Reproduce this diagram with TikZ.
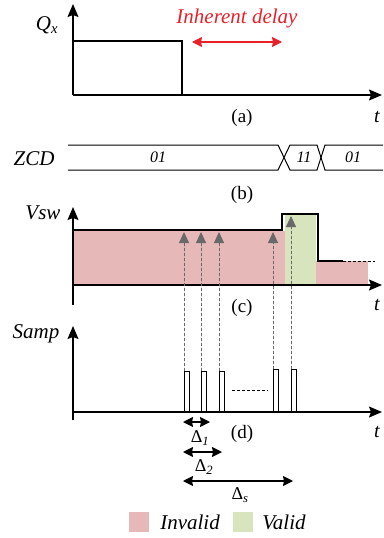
\documentclass[tikz,border=0pt]{standalone}
\usepackage{xcolor}
\usepackage{fontspec}
\setmainfont{Liberation Serif}
\usepackage{tikz}
\usetikzlibrary{arrows.meta}
\definecolor{invalidpink}{RGB}{230,184,183}
\definecolor{validgreen}{RGB}{215,228,189}
\definecolor{delayred}{RGB}{232,32,40}
\definecolor{probegray}{RGB}{105,105,105}
\newcommand{\tsize}[1]{\fontsize{#1}{#1}\selectfont}

\begin{document}
\begin{tikzpicture}[x=1pt, y=-1pt, font=\tsize{19}]
	\useasboundingbox (0,0) rectangle (383,538);
	% Define styles
	\tikzstyle{axis}=[line width=1.3pt, -{Stealth[length=13pt, width=11pt, inset=2pt]}]
	\tikzstyle{wave}=[line width=1.3pt, line join=miter]
	\tikzstyle{bus}=[line width=1pt]
	\tikzstyle{pulse}=[line width=1pt]
	\tikzstyle{probe}=[line width=0.9pt, densely dashed, draw=probegray, fill=probegray, -{Triangle[length=11pt, width=10pt]}]
	\tikzstyle{span}=[line width=1.3pt, {Stealth[length=10pt, width=10pt, inset=1pt]}-{Stealth[length=10pt, width=10pt, inset=1pt]}]
	\tikzstyle{sig}=[font=\itshape\tsize{21}, inner sep=0pt]
	\tikzstyle{panel}=[font=\tsize{19}, inner sep=0pt]
	\tikzstyle{tlab}=[font=\itshape\tsize{20}, inner sep=0pt]
	\tikzstyle{bits}=[font=\itshape\tsize{16}, inner sep=0pt]
	\tikzstyle{dlab}=[font=\tsize{18}, inner sep=0pt]
	\tikzstyle{key}=[minimum size=20pt, inner sep=0pt]

	% (a) Q_x
	\coordinate (Oa) at (73,95);
	\coordinate (Ya) at (73,4);
	\coordinate (Xa) at (382,95);
	\draw[axis] (Oa) -- (Ya);
	\draw[axis] (Oa) -- (Xa);
	\draw[wave] (73,41) -- (182,41) -- (182,95);
	\node[sig] (qx) at (47,25) {Q\textsubscript{x}};
	\node[sig, text=delayred] (delay) at (237,18) {Inherent delay};
	\coordinate (dl) at (192,42);
	\coordinate (dr) at (282,42);
	\draw[span, delayred] (dl) -- (dr);
	\node[panel] (capa) at (242,118) {(a)};
	\node[tlab] (ta) at (377,117) {t};

	% (b) ZCD
	\node[sig] (zcd) at (34,159) {ZCD};
	\draw[bus] (68,145) -- (278,145) -- (290,170) -- (317,170) -- (325,145) -- (383,145);
	\draw[bus] (68,170) -- (278,170) -- (290,145) -- (317,145) -- (325,170) -- (383,170);
	\node[bits] (bita) at (158,157) {01};
	\node[bits] (bitb) at (304,157) {11};
	\node[bits] (bitc) at (353,157) {01};
	\node[panel] (capb) at (242,195) {(b)};

	% (c) Vsw
	\fill[invalidpink] (73,231) rectangle (285,285);
	\fill[validgreen] (285,214) rectangle (316,285);
	\fill[invalidpink] (316,261) rectangle (368,285);
	\draw[wave] (73,230) -- (282,230) -- (282,214) -- (318,214) -- (318,261) -- (343,261);
	\draw[pulse, densely dashed] (343,261) -- (375,261);
	\coordinate (Oc) at (73,285);
	\coordinate (Bc) at (73,305);
	\coordinate (Yc) at (73,207);
	\coordinate (Xc) at (382,285);
	\draw[axis] (Bc) -- (Yc);
	\draw[axis] (Oc) -- (Xc);
	\node[sig] (vsw) at (43,213) {Vsw};
	\node[panel] (capc) at (242,308) {(c)};
	\node[tlab] (tc) at (377,305) {t};

	% (d) Samp
	\coordinate (Od) at (73,412);
	\coordinate (Bd) at (73,420);
	\coordinate (Yd) at (73,326);
	\coordinate (Xd) at (382,412);
	\draw[axis] (Bd) -- (Yd);
	\draw[axis] (Od) -- (Xd);
	\node[sig] (samp) at (36,334) {Samp};
	\draw[pulse] (184,412) -- (184,371) coordinate (p1) -- (189,371) -- (189,412);
	\draw[pulse] (201,412) -- (201,371) coordinate (p2) -- (206,371) -- (206,412);
	\draw[pulse] (219,412) -- (219,371) coordinate (p3) -- (224,371) -- (224,412);
	\draw[pulse] (273,412) -- (273,369) coordinate (p4) -- (278,369) -- (278,412);
	\draw[pulse] (291,412) -- (291,369) coordinate (p5) -- (296,369) -- (296,412);
	\draw[pulse, densely dashed] (232,390) -- (268,390);

	% sampling instants
	\coordinate (h1) at (184,232);
	\coordinate (h2) at (201,232);
	\coordinate (h3) at (219,232);
	\coordinate (h4) at (273,232);
	\coordinate (h5) at (291,216);
	\draw[probe] (p1) -- (h1);
	\draw[probe] (p2) -- (h2);
	\draw[probe] (p3) -- (h3);
	\draw[probe] (p4) -- (h4);
	\draw[probe] (p5) -- (h5);

	% intervals
	\coordinate (s1) at (183,422);
	\coordinate (e1) at (210,422);
	\coordinate (s2) at (183,452);
	\coordinate (e2) at (222,452);
	\coordinate (s3) at (183,481);
	\coordinate (e3) at (293,481);
	\draw[span] (s1) -- (e1);
	\draw[span] (s2) -- (e2);
	\draw[span] (s3) -- (e3);
	\node[dlab] (d1) at (200,438) {Δ\textsubscript{\textit{1}}};
	\node[dlab] (d2) at (204,467) {Δ\textsubscript{\textit{2}}};
	\node[dlab] (ds) at (240,495) {Δ\textsubscript{\textit{s}}};
	\node[panel] (capd) at (242,434) {(d)};
	\node[tlab] (td) at (377,432) {t};

	% legend
	\node[key, fill=invalidpink] (keyinv) at (139,522) {};
	\node[sig] (txtinv) at (190,522) {Invalid};
	\node[key, fill=validgreen] (keyval) at (243,522) {};
	\node[sig] (txtval) at (284,522) {Valid};
\end{tikzpicture}
\end{document}
